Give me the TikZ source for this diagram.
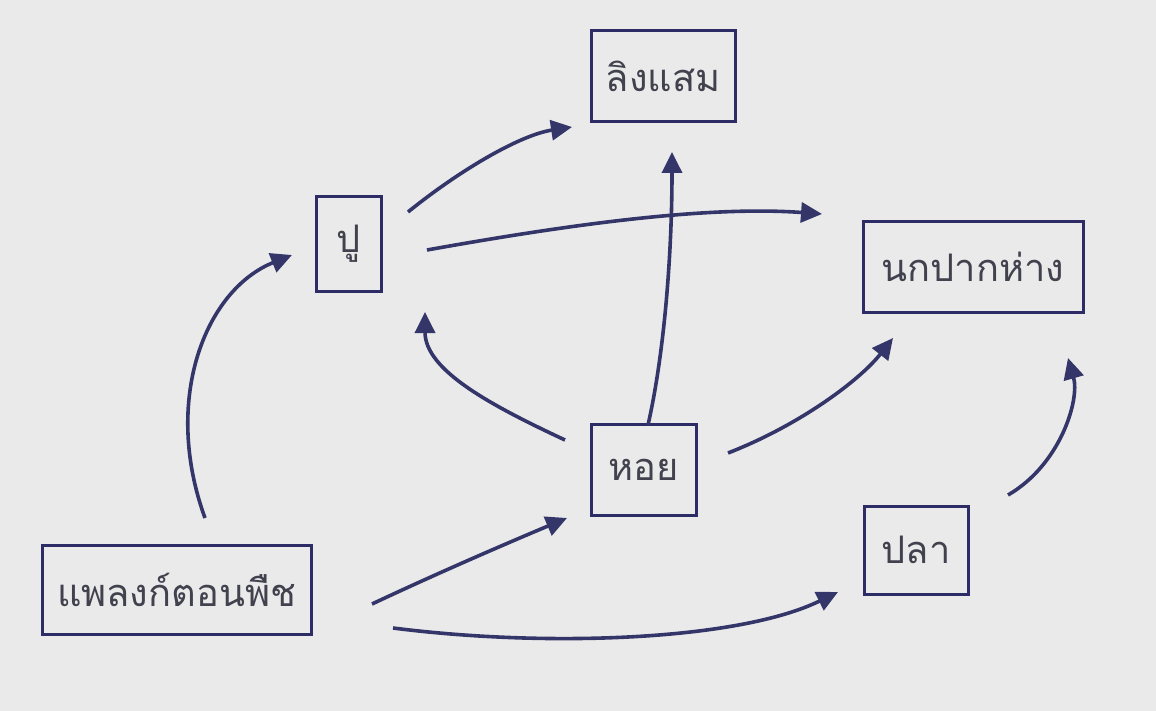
\documentclass[tikz,border=0pt]{standalone}
\usepackage{fontspec}
\newfontfamily\thaifont[Script=Thai]{Loma}
\usetikzlibrary{arrows.meta}
\definecolor{bg}{HTML}{EAEAEA}
\definecolor{boxc}{HTML}{2E2C66}
\definecolor{arrc}{HTML}{343669}
\definecolor{txtc}{HTML}{42424F}
\tikzset{
  sp/.style={draw=boxc, line width=3pt, text=txtc, inner sep=0pt, font=\thaifont\fontsize{38}{46}\selectfont},
  arr/.style={draw=arrc, line width=3.6pt, -{Triangle[length=21pt,width=20pt]}}
}
\begin{document}
\begin{tikzpicture}[x=1pt,y=-1pt]
\fill[bg] (0,0) rectangle (1156,711);
\useasboundingbox (0,0) rectangle (1156,711);
\node[sp, minimum width=144pt, minimum height=91pt] (ling) at (663,76.5) {ลิงแสม};
\node[sp, minimum width=65pt, minimum height=94pt] (pu) at (348.5,244) {ปู};
\node[sp, minimum width=220pt, minimum height=90pt] (nok) at (973,267) {นกปากห่าง};
\node[sp, minimum width=105pt, minimum height=91pt] (hoi) at (643.5,469.5) {หอย};
\node[sp, minimum width=104pt, minimum height=88pt] (pla) at (916,550) {ปลา};
\node[sp, minimum width=269pt, minimum height=89pt] (plank) at (176.5,589.5) {แพลงก์ตอนพืช};
% endpoints
\coordinate (a1) at (205,518); \coordinate (b1) at (292,255);
\coordinate (a2) at (408,212); \coordinate (b2) at (572,127);
\coordinate (a3) at (427,250); \coordinate (b3) at (822,214);
\coordinate (a4) at (565,440); \coordinate (b4) at (425,312);
\coordinate (a5) at (648,425); \coordinate (b5) at (672,152);
\coordinate (a6) at (728,453); \coordinate (b6) at (893,338);
\coordinate (a7) at (1008,495); \coordinate (b7) at (1068,358);
\coordinate (a8) at (372,604); \coordinate (b8) at (567,518);
\coordinate (a9) at (393,628); \coordinate (b9) at (838,592);
\draw[arr] (a1) .. controls (162,400) and (205,290) .. (b1);
\draw[arr] (a2) .. controls (460,170) and (520,135) .. (b2);
\draw[arr] (a3) .. controls (550,228) and (700,205) .. (b3);
\draw[arr] (a4) .. controls (490,405) and (425,370) .. (b4);
\draw[arr] (a5) .. controls (665,350) and (672,250) .. (b5);
\draw[arr] (a6) .. controls (800,425) and (860,380) .. (b6);
\draw[arr] (a7) .. controls (1060,465) and (1080,400) .. (b7);
\draw[arr] (a8) .. controls (440,572) and (510,542) .. (b8);
\draw[arr] (a9) .. controls (550,648) and (740,640) .. (b9);
\end{tikzpicture}
\end{document}
